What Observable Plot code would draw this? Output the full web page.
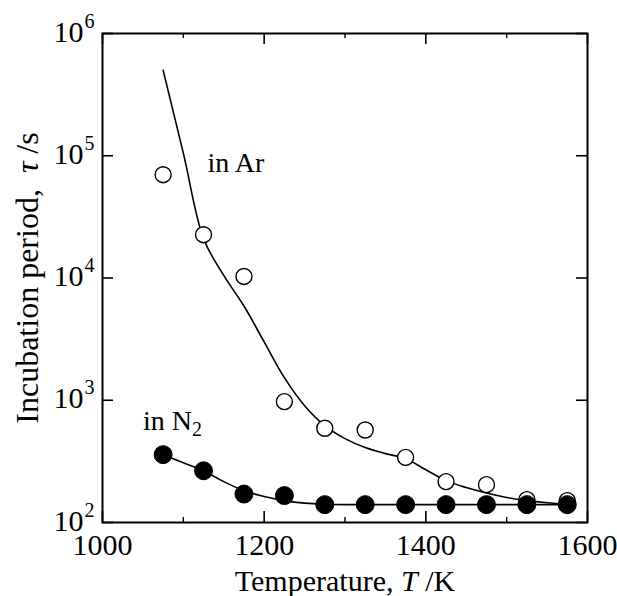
<!DOCTYPE html>
<html>
<head>
<meta charset="utf-8">
<script src="https://cdn.jsdelivr.net/npm/d3@7"></script>
<script src="https://cdn.jsdelivr.net/npm/@observablehq/plot@0.6"></script>
<style>
  html, body { margin: 0; padding: 0; background: #fff; }
  svg, svg text, svg tspan { font-family: "Liberation Serif", "DejaVu Serif", serif !important; }
</style>
</head>
<body>
<div id="chart"></div>
<script>
// ---- data ----
const tempPoints = [1075, 1125, 1175, 1225, 1275, 1325, 1375, 1425, 1475, 1525, 1575];
const tauAr = [7.0e4, 2.26e4, 1.03e4, 975, 590, 571, 341, 216, 204, 154, 151];
const tauN2 = [359, 265, 171, 166, 140, 140, 140, 140, 140, 140, 140];

const fitTemp = [1075, 1100, 1125, 1150, 1175, 1200, 1225, 1250, 1275, 1300, 1325,
                 1350, 1375, 1400, 1425, 1450, 1475, 1500, 1525, 1550, 1575];
const fitAr = [5.0e5, 1.05e5, 2.1e4, 1.05e4, 5.9e3, 3.0e3, 1.53e3, 903, 620, 485, 410,
               366, 333, 270, 220, 193, 174, 160, 151, 145, 141];
const fitN2 = [359, 308, 265, 216, 182, 163, 151, 144, 141, 140, 140,
               140, 140, 140, 140, 140, 140, 140, 140, 140, 140];

const xTicks = [1000, 1200, 1400, 1600];
const xMinorTicks = [1100, 1300, 1500];
const yTicks = [1e2, 1e3, 1e4, 1e5, 1e6];

const labels = [
  {text: "in Ar", T: 1130, tau: 7.4e4},
  {text: "in N2", T: 1050, tau: 574}
];
const xTitle = "Temperature, T /K";
const yTitle = "Incubation period,\u00a0\u00a0τ /s";

// ---- tables built from the arrays ----
const ptsAr = tempPoints.map((T, i) => ({T, tau: tauAr[i]}));
const ptsN2 = tempPoints.map((T, i) => ({T, tau: tauN2[i]}));
const lineAr = fitTemp.map((T, i) => ({T, tau: fitAr[i]}));
const lineN2 = fitTemp.map((T, i) => ({T, tau: fitN2[i]}));

// ---- layout ----
const W = 617, H = 596;
const mL = 102, mR = 30, mT = 33, mB = 74;
const fW = W - mL - mR, fH = H - mT - mB;
const serif = "Liberation Serif";

const chart = Plot.plot({
  width: W, height: H,
  marginLeft: mL, marginRight: mR, marginTop: mT, marginBottom: mB,
  style: {fontFamily: serif, fontSize: "28px", color: "#000", background: "#fff", overflow: "visible"},
  x: {domain: [1000, 1600], axis: null},
  y: {type: "log", domain: [100, 1e6], axis: null},
  marks: [
    // inward ticks
    Plot.tickX(xTicks, {x: d => d, insetTop: fH - 11, strokeWidth: 1.6}),
    Plot.tickX(xTicks, {x: d => d, insetBottom: fH - 11, strokeWidth: 1.6}),
    Plot.tickX(xMinorTicks, {x: d => d, insetTop: fH - 5, strokeWidth: 1.4}),
    Plot.tickX(xMinorTicks, {x: d => d, insetBottom: fH - 5, strokeWidth: 1.4}),
    Plot.tickY(yTicks, {y: d => d, insetRight: fW - 11, strokeWidth: 1.6}),
    Plot.tickY(yTicks, {y: d => d, insetLeft: fW - 11, strokeWidth: 1.6}),
    Plot.frame({stroke: "#000", strokeWidth: 2}),
    // tick labels
    Plot.text(xTicks, {x: d => d, frameAnchor: "bottom", lineAnchor: "bottom", textAnchor: "middle", dy: 32,
                       text: d => String(d), fontSize: 30, fontFamily: serif}),
    Plot.text(yTicks, {y: d => d, frameAnchor: "left", lineAnchor: "bottom", textAnchor: "end",
                       dx: -19, dy: 8, text: () => "10", fontSize: 30, fontFamily: serif}),
    Plot.text(yTicks, {y: d => d, frameAnchor: "left", lineAnchor: "bottom", textAnchor: "start",
                       dx: -18, dy: -6, text: d => String(Math.round(Math.log10(d))), fontSize: 20, fontFamily: serif}),
    // axis titles
    Plot.text([xTitle], {frameAnchor: "bottom", lineAnchor: "bottom", textAnchor: "middle", dy: 68,
                         fontSize: 30, fontFamily: serif}),
    Plot.text([yTitle], {frameAnchor: "left", lineAnchor: "bottom", textAnchor: "middle", rotate: -90,
                         dx: -65, fontSize: 32, fontFamily: serif}),
    // fitted curves
    Plot.line(lineAr, {x: "T", y: "tau", curve: "catmull-rom", stroke: "#000", strokeWidth: 1.6}),
    Plot.line(lineN2, {x: "T", y: "tau", curve: "catmull-rom", stroke: "#000", strokeWidth: 1.6}),
    // data points
    Plot.dot(ptsAr, {x: "T", y: "tau", r: 8, fill: "#fff", stroke: "#000", strokeWidth: 1.4}),
    Plot.dot(ptsN2, {x: "T", y: "tau", r: 9, fill: "#000", stroke: "#000", strokeWidth: 1}),
    // annotations
    Plot.text(labels, {x: "T", y: "tau", text: "text", textAnchor: "start", lineAnchor: "bottom",
                       fontSize: 28, fontFamily: serif})
  ]
});

document.getElementById("chart").appendChild(chart);

// rich text: italics and subscripts
const NS = "http://www.w3.org/2000/svg";
function rich(el, parts) {
  el.textContent = "";
  for (const p of parts) {
    const ts = document.createElementNS(NS, "tspan");
    ts.textContent = p.t;
    if (p.italic) ts.setAttribute("font-style", "italic");
    if (p.dy) ts.setAttribute("dy", p.dy);
    if (p.size) ts.setAttribute("font-size", p.size);
    el.appendChild(ts);
  }
}
d3.select(chart).selectAll("text").each(function () {
  const t = this.textContent;
  if (t === xTitle) rich(this, [{t: "Temperature, "}, {t: "T", italic: true}, {t: " /K"}]);
  else if (t === yTitle) rich(this, [{t: "Incubation period,\u00a0\u00a0"}, {t: "τ", italic: true}, {t: " /s"}]);
  else if (t === "in N2") rich(this, [{t: "in N"}, {t: "2", dy: "0.3em", size: "20px"}]);
});
</script>
</body>
</html>
